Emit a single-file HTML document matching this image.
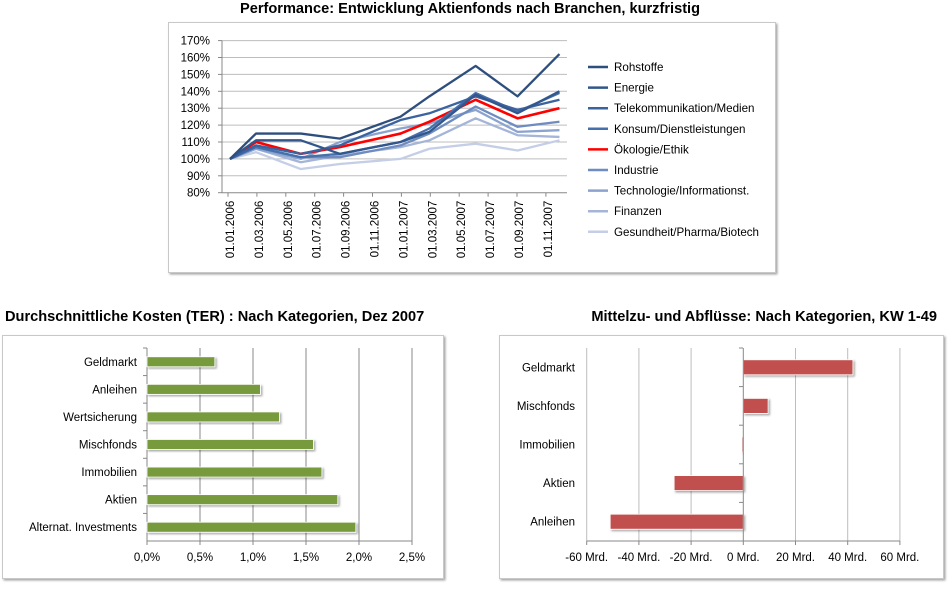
<!DOCTYPE html>
<html><head><meta charset="utf-8"><style>
body{margin:0;background:#fff;width:948px;height:589px;overflow:hidden;font-family:"Liberation Sans",sans-serif;}
svg text{font-family:"Liberation Sans",sans-serif;}
</style></head><body>
<svg id="s" width="948" height="589" xmlns="http://www.w3.org/2000/svg">
<defs><filter id="sh" x="-10%" y="-10%" width="130%" height="140%"><feDropShadow dx="1.5" dy="1.5" stdDeviation="1" flood-color="#000" flood-opacity="0.35"/></filter></defs>
<text x="470" y="13" text-anchor="middle" font-size="14.6" font-weight="bold">Performance: Entwicklung Aktienfonds nach Branchen, kurzfristig</text>
<rect x="168.5" y="22.5" width="607" height="250" fill="#fff" stroke="#c8c8c8" filter="url(#sh)"/>
<g id="g1"></g>
<text x="5" y="321" font-size="14.6" font-weight="bold">Durchschnittliche Kosten (TER) : Nach Kategorien, Dez 2007</text>
<rect x="2.5" y="335.5" width="441" height="243" fill="#fff" stroke="#c8c8c8" filter="url(#sh)"/>
<g id="g2"></g>
<text x="937" y="321" text-anchor="end" font-size="14.6" font-weight="bold">Mittelzu- und Abflüsse: Nach Kategorien, KW 1-49</text>
<rect x="499.5" y="335.5" width="444" height="243" fill="#fff" stroke="#c8c8c8" filter="url(#sh)"/>
<g id="g3"></g>
</svg>
<script>
const NS="http://www.w3.org/2000/svg";
function mk(p,t,a){const e=document.createElementNS(NS,t);for(const k in a)e.setAttribute(k,a[k]);p.appendChild(e);return e;}
// ---- Chart 1 data ----
const dateLabels=["01.01.2006","01.03.2006","01.05.2006","01.07.2006","01.09.2006","01.11.2006","01.01.2007","01.03.2007","01.05.2007","01.07.2007","01.09.2007","01.11.2007"];
const pointMonths=[0,1.8,4.9,7.6,11.8,13.8,17,19.9,22.8];
const seriesNames=["Rohstoffe","Energie","Telekommunikation/Medien","Konsum/Dienstleistungen","Ökologie/Ethik","Industrie","Technologie/Informationst.","Finanzen","Gesundheit/Pharma/Biotech"];
const rohstoffe=[100,115,115,112,125,137,155,137,162];
const energie=[100,111,111,103,110,116,138,127,140];
const telekom=[100,108,103,108,123,127,137,129,135];
const konsum=[100,107,101,103,110,118,139,128,139];
const oekologie=[100,110,103,107,115,122,135,124,130];
const industrie=[100,107,101,101,108,115,131,119,122];
const technologie=[100,106,100,110,118,121,129,116,117];
const finanzen=[100,106,98,102,107,111,124,114,113];
const gesundheit=[100,104,94,97,100,106,109,105,111];
const yTicks1=[80,90,100,110,120,130,140,150,160,170];
const allSeries=[rohstoffe,energie,telekom,konsum,oekologie,industrie,technologie,finanzen,gesundheit];
const colors=["#2e4e7e","#33578c","#3a63a0","#4670ab","#ff0000","#6e8cc0","#8ba3cf","#a4b5d8","#c4cee6"];
const g1=document.getElementById('g1');
const X1=m=>230+m*14.45, Y1=v=>192.7-(v-80)*1.69;
yTicks1.forEach(v=>{const y=Y1(v);
 if(v>80){const l=mk(g1,'line',{x1:222,x2:567,y1:y,y2:y,stroke:'#bdbdbd'});}
 const t=mk(g1,'text',{x:210,y:y+4,'text-anchor':'end','font-size':11.5});t.textContent=v+'%';
 mk(g1,'line',{x1:218,x2:222,y1:y,y2:y,stroke:'#888'});});
mk(g1,'line',{x1:222,x2:222,y1:Y1(170),y2:Y1(80),stroke:'#888'});
mk(g1,'line',{x1:222,x2:567,y1:Y1(80),y2:Y1(80),stroke:'#888'});
dateLabels.forEach((d,i)=>{const x=X1(i*2);
 mk(g1,'line',{x1:x-2,x2:x-2,y1:Y1(80),y2:Y1(80)+4,stroke:'#888'});
 const t=mk(g1,'text',{x:0,y:0,'font-size':11.5,transform:`translate(${x+4},${Y1(80)+8}) rotate(-90)`,'text-anchor':'end'});t.textContent=d;
 });
for(let s=allSeries.length-1;s>=0;s--){
 const pts=allSeries[s].map((v,i)=>X1(pointMonths[i])+','+Y1(v)).join(' ');
 const p=mk(g1,'polyline',{points:pts,fill:'none',stroke:colors[s],'stroke-width':s==4?2.6:2.3,'stroke-linejoin':'round'});
 
 if(s==4){g1.appendChild(p);}
}
seriesNames.forEach((n,i)=>{const y=67+i*20.6;
 const g=mk(g1,'g',{});
 mk(g,'line',{x1:588,x2:608,y1:y,y2:y,stroke:colors[i],'stroke-width':2.5});
 const t=mk(g,'text',{x:614,y:y+4,'font-size':11.6});t.textContent=n;});
// ---- Chart 2 data ----
const terCats=["Geldmarkt","Anleihen","Wertsicherung","Mischfonds","Immobilien","Aktien","Alternat. Investments"];
const terValues=[0.64,1.07,1.25,1.57,1.65,1.80,1.97];
const terTicks=["0,0%","0,5%","1,0%","1,5%","2,0%","2,5%"];
const g2=document.getElementById('g2');
const X2=v=>147+v*106, band2=(541-348)/terCats.length;
terTicks.forEach((l,i)=>{const x=X2(i*0.5);
 if(i>0)mk(g2,'line',{x1:x,x2:x,y1:348,y2:541,stroke:'#8a8a8a'});
 mk(g2,'line',{x1:x,x2:x,y1:541,y2:545,stroke:'#888'});
 const t=mk(g2,'text',{x:x,y:561,'text-anchor':'middle','font-size':11.5});t.textContent=l;});
mk(g2,'line',{x1:147,x2:147,y1:348,y2:541,stroke:'#888'});mk(g2,'line',{x1:147,x2:412,y1:541,y2:541,stroke:'#888'});
terCats.forEach((c,i)=>{const yc=348+band2*(i+0.5);
 mk(g2,'line',{x1:143,x2:147,y1:348+band2*i,y2:348+band2*i,stroke:'#888'});
 const r=mk(g2,'rect',{x:147,y:yc-5,width:X2(terValues[i])-147,height:10,fill:'#779a3e',stroke:'#fff','stroke-width':0.8,filter:'url(#sh)'});
 
 const t=mk(g2,'text',{x:137,y:yc+4,'text-anchor':'end','font-size':11.5});t.textContent=c;});
// ---- Chart 3 data ----
const flowCats=["Geldmarkt","Mischfonds","Immobilien","Aktien","Anleihen"];
const flowValues=[42,9.5,-0.5,-26.5,-51];
const flowTicks=[-60,-40,-20,0,20,40,60];
const g3=document.getElementById('g3');
const X3=v=>743.3+v*2.61, band3=(541-348)/flowCats.length;
flowTicks.forEach(v=>{const x=X3(v);
 if(v!=0)mk(g3,'line',{x1:x,x2:x,y1:348,y2:541,stroke:'#bdbdbd'});
 mk(g3,'line',{x1:x,x2:x,y1:541,y2:545,stroke:'#888'});
 const t=mk(g3,'text',{x:x,y:561,'text-anchor':'middle','font-size':11.5});t.textContent=v+' Mrd.';});
mk(g3,'line',{x1:X3(-60),x2:X3(60),y1:541,y2:541,stroke:'#888'});
flowCats.forEach((c,i)=>{const yc=348+band3*(i+0.5);
 mk(g3,'line',{x1:739,x2:743,y1:348+band3*i,y2:348+band3*i,stroke:'#888'});
 const v=flowValues[i];const x0=Math.min(X3(0),X3(v));
 const r=mk(g3,'rect',{x:x0,y:yc-7.5,width:Math.max(Math.abs(X3(v)-X3(0)),1),height:15,fill:'#c0504d',stroke:'#fff','stroke-width':0.8,filter:'url(#sh)'});
 
 const t=mk(g3,'text',{x:575,y:yc+4,'text-anchor':'end','font-size':11.5});t.textContent=c;});
mk(g3,'line',{x1:X3(0),x2:X3(0),y1:348,y2:541,stroke:'#888'});
</script>
</body></html>
